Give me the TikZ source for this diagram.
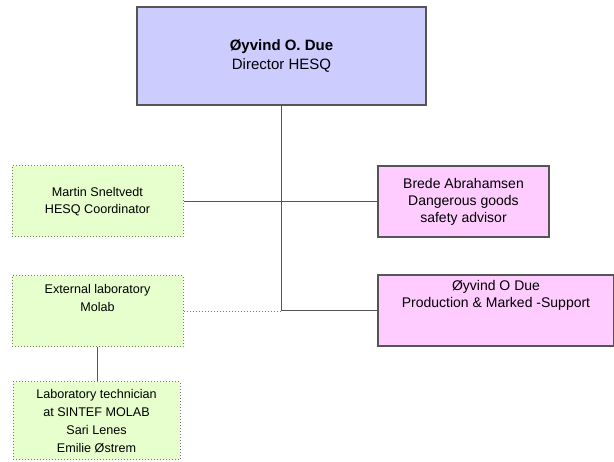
\documentclass[tikz,border=0pt]{standalone}
\usepackage{fontspec}
\setmainfont{Liberation Sans}
\definecolor{dirfill}{RGB}{204,204,255}
\definecolor{pinkfill}{RGB}{255,204,255}
\definecolor{greenfill}{RGB}{230,255,204}
\definecolor{edgegray}{RGB}{85,85,85}
\definecolor{dotgray}{RGB}{120,120,120}
\begin{document}
\begin{tikzpicture}[x=1pt,y=-1pt,
  solidbox/.style={draw=edgegray,line width=1.4pt,rectangle,inner sep=0pt,align=center},
  dotbox/.style={draw=dotgray,line width=1pt,dotted,fill=greenfill,rectangle,inner sep=0pt,align=center,
     font=\fontsize{12.6}{17.5}\selectfont},
  pinkbox/.style={solidbox,fill=pinkfill,font=\fontsize{14}{17}\selectfont},
  conn/.style={draw=edgegray,line width=1.5pt},
  dotconn/.style={draw=dotgray,line width=1pt,dotted}]
\useasboundingbox (0,0) rectangle (614,462);
\node[solidbox,fill=dirfill,minimum width=289pt,minimum height=98pt,font=\fontsize{15}{19}\selectfont]
  (dir) at (281.5,56) {\textbf{Øyvind O. Due}\\Director HESQ};
\node[dotbox,minimum width=171pt,minimum height=71pt] (mar) at (97.5,201.5)
  {Martin Sneltvedt\\HESQ Coordinator};
\node[pinkbox,minimum width=171pt,minimum height=71pt] (bre) at (463.5,201.5)
  {Brede Abrahamsen\\Dangerous goods\\safety advisor};
\node[dotbox,minimum width=171pt,minimum height=71pt] (ext) at (97.5,311.5) {};
\node[anchor=north,inner sep=0pt,align=center,font=\fontsize{12.6}{17.5}\selectfont]
  (extt) at ([yshift=-9pt]ext.north) {External laboratory\\Molab};
\node[pinkbox,minimum width=236pt,minimum height=71pt] (oy) at (496,310.5) {};
\node[anchor=north,inner sep=0pt,align=center,font=\fontsize{14}{16.5}\selectfont]
  (oyt) at ([yshift=-6pt]oy.north) {Øyvind O Due\\Production \& Marked -Support};
\node[dotbox,minimum width=167pt,minimum height=78pt,font=\fontsize{12.6}{18}\selectfont] (lab) at (96.5,421)
  {Laboratory technician\\at SINTEF MOLAB\\Sari Lenes\\Emilie Østrem};
\draw[conn] (dir.south) |- (oy.west);
\draw[conn] (mar.east) -- (bre.west);
\draw[dotconn] (ext.east) -- (ext.east -| dir.south);
\draw[conn] (ext.south) -- (ext.south |- lab.north);
\end{tikzpicture}
\end{document}
